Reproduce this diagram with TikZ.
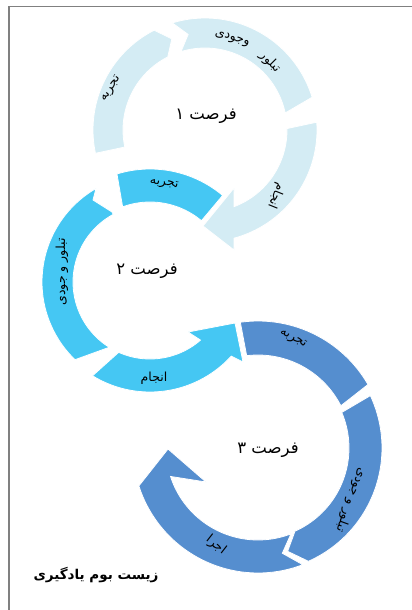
\documentclass[tikz,border=0pt]{standalone}
\usepackage{fontspec}
\newfontfamily\fa[Script=Arabic]{DejaVu Sans}
\TeXXeTstate=1
\definecolor{cOne}{RGB}{212,236,244}
\definecolor{cTwo}{RGB}{69,199,243}
\definecolor{cThree}{RGB}{85,142,207}
\definecolor{frameGray}{RGB}{128,128,128}
\newcommand\arcpts[5]{plot[domain=#4:#5,samples=40,variable=\t]({#1+#3*cos(\t)},{#2+#3*sin(\t)})}
\newcommand\arcto[5]{-- plot[domain=#4:#5,samples=40,variable=\t]({#1+#3*cos(\t)},{#2+#3*sin(\t)})}
\tikzset{
 seg/.style={draw=white,line width=0.8pt,line join=miter},
 lbl/.style={font=\fa\fontsize{12.5}{14}\selectfont,inner sep=0pt,text=black},
 ctr/.style={font=\fa\fontsize{16.5}{18}\selectfont,inner sep=0pt,text=black},
 ttl/.style={font=\fa\bfseries\fontsize{13.5}{15}\selectfont,inner sep=0pt,text=black},
 frameline/.style={draw=frameGray,line width=1.5pt}
}
\begin{document}
\begin{tikzpicture}[x=1pt,y=-1pt]
\useasboundingbox (0,0) rectangle (412,610);
% frame
\coordinate (fTL) at (9,6.5);
\coordinate (fTR) at (412,6.5);
\coordinate (fBL) at (9,610);
\draw[frameline] (fTR) -- (fTL) -- (fBL);

% ---------- cycle 1 (light) ----------
\path[seg,fill=cOne] \arcpts{205}{130}{112}{168}{243} -- ({205+97*cos(250)},{130+97*sin(250)}) \arcto{205}{130}{82}{243}{168} -- cycle;
\path[seg,fill=cOne] \arcpts{205}{130}{112}{253}{343} \arcto{205}{130}{82}{348}{253} -- ({205+97*cos(260)},{130+97*sin(260)}) -- cycle;
\path[seg,fill=cOne] \arcpts{205}{130}{112}{356}{435} -- (234,250) -- (203,226) -- (234,188) \arcto{205}{130}{82}{429.3}{359} -- cycle;

% ---------- cycle 2 (cyan) ----------
\path[seg,fill=cTwo] \arcpts{150}{282}{113}{253}{310} \arcto{150}{282}{80}{310}{250} -- cycle;
\path[seg,fill=cTwo] \arcpts{150}{282}{108}{134}{240} -- (93,200) -- (112,212) \arcto{150}{282}{77}{241.5}{122} -- cycle;
\path[seg,fill=cTwo] \arcpts{150}{282}{110}{121.5}{42.4} -- (243,362) -- (235,323) -- (188,332) \arcto{150}{282}{77}{49}{114} -- cycle;

% ---------- cycle 3 (blue) ----------
\path[seg,fill=cThree] \arcpts{258}{448}{127}{262}{330} \arcto{258}{448}{93}{333}{263} -- cycle;
\path[seg,fill=cThree] \arcpts{258}{448}{124}{335}{426} -- ({258+107.5*cos(434)},{448+107.5*sin(434)}) \arcto{258}{448}{91}{426}{337} -- cycle;
\path[seg,fill=cThree] \arcpts{258}{448}{125}{69}{162} -- (138,487) -- (168,449) -- (206,482) \arcto{258}{448}{92}{162}{69} -- ({258+108*cos(77)},{448+108*sin(77)}) -- cycle;

% ---------- labels ----------
\node[ctr] (t1) at (206,116) {\beginR فرصت ۱\endR};
\node[lbl,rotate=58] (l1a) at (111,89) {\beginR تجربه\endR};
\node[lbl,rotate=-15] (l1b) at (232,39) {\beginR وجودی\endR};
\node[lbl,rotate=-45] (l1c) at (270,62) {\beginR تبلور\endR};
\node[lbl,rotate=-112] (l1d) at (276,196) {\beginR انجام\endR};

\node[ctr] (t2) at (147,271) {\beginR فرصت ۲\endR};
\node[lbl,rotate=-8] (l2a) at (164,184) {\beginR تجربه\endR};
\node[lbl,rotate=90] (l2b) at (62,272) {\beginR تبلور و جودی\endR};
\node[lbl] (l2c) at (154,378) {\beginR انجام\endR};

\node[ctr] (t3) at (268,450) {\beginR فرصت ۳\endR};
\node[lbl,rotate=-27] (l3a) at (293,339) {\beginR تجربه\endR};
\node[lbl,rotate=-110] (l3b) at (351,500) {\beginR تبلور و جودی\endR};
\node[lbl,rotate=-38] (l3c) at (216,545) {\beginR اجرا\endR};

\node[ttl] (title) at (96,575) {\beginR زیست بوم یادگیری\endR};
\end{tikzpicture}
\end{document}
